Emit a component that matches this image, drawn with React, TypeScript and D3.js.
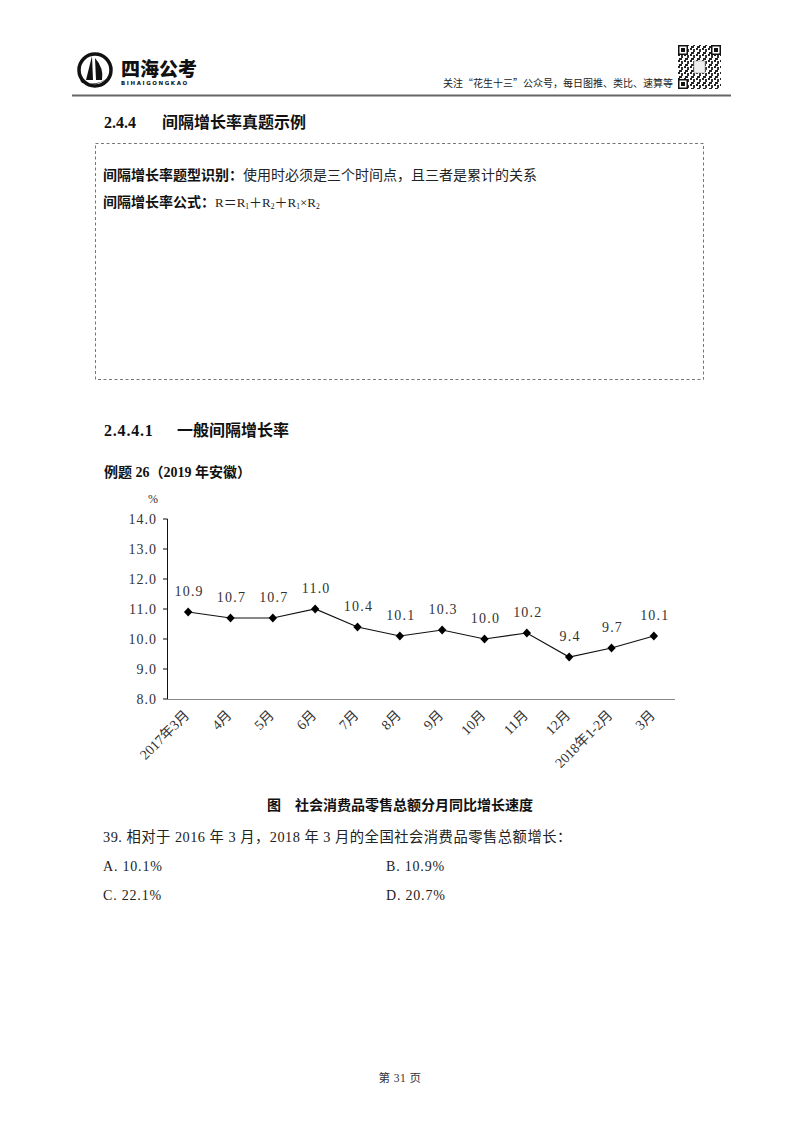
import React from 'react';
import * as d3 from 'd3';

const categories = ['2017年3月', '4月', '5月', '6月', '7月', '8月', '9月', '10月', '11月', '12月', '2018年1-2月', '3月'];
const values = [10.9, 10.7, 10.7, 11.0, 10.4, 10.1, 10.3, 10.0, 10.2, 9.4, 9.7, 10.1];
const yTicks = [8, 9, 10, 11, 12, 13, 14];
const optionLabels = ['A', 'B', 'C', 'D'];
const optionValues = ['10.1%', '10.9%', '22.1%', '20.7%'];

const SERIF = '"Liberation Serif", "DejaVu Serif", "Noto Sans CJK SC", serif';
const CJK = '"Noto Sans CJK SC", sans-serif';
const MIX = '"Liberation Serif", "Noto Sans CJK SC", serif';

export default function App() {
  const x = d3.scalePoint<string>().domain(categories).range([167, 675]).padding(0.5);
  const y = d3.scaleLinear().domain([8, 14]).range([699, 519]);
  const line = d3
    .line<number>()
    .x((_, i) => x(categories[i]) as number)
    .y((d) => y(d));
  const fmt = d3.format('.1f');
  const diamond = 'M0,-4.6L4.2,0L0,4.6L-4.2,0Z';

  return (
    <svg
      width={800}
      height={1132}
      viewBox="0 0 800 1132"
      style={{ position: 'absolute', left: 0, top: 0, background: '#fff' }}
    >
      <defs>
        <pattern id="qr" width="6" height="6" patternUnits="userSpaceOnUse">
          <rect x="0" y="0" width="2" height="2" fill="#222" />
          <rect x="3" y="1" width="2" height="3" fill="#333" />
          <rect x="1" y="4" width="3" height="2" fill="#222" />
        </pattern>
      </defs>
      <rect x={0} y={0} width={800} height={1132} fill="#fff" />

      {/* Header logo */}
      <g>
        <circle cx={95} cy={70} r={16} fill="none" stroke="#111" strokeWidth={3.5} />
        <path d="M92,56 L93,80 L86,80 Z" fill="#111" />
        <path d="M95,58 Q104,68 102,80 L96,80 Z" fill="#111" />
        <path d="M80,80 Q95,90 110,76 Q100,86 82,83 Z" fill="#111" />
        <text x={121} y={76} fontFamily={CJK} fontWeight={900} fontSize={19} fill="#111">
          四海公考
        </text>
        <text x={121} y={85} fontFamily={'"DejaVu Sans", sans-serif'} fontWeight={700} fontSize={5.5} letterSpacing={1.6} fill="#111">
          BIHAIGONGKAO
        </text>
      </g>
      <text x={673} y={87} textAnchor="end" fontFamily={CJK} fontSize={10} fill="#222">
        关注“花生十三”公众号，每日图推、类比、速算等
      </text>
      <g>
        <rect x={678} y={45} width={43} height={44} fill="url(#qr)" />
        {[
          [678, 45],
          [711, 45],
          [678, 79],
        ].map(([qx, qy], i) => (
          <g key={i}>
            <rect x={qx} y={qy} width={10} height={10} fill="#111" />
            <rect x={qx + 1.5} y={qy + 1.5} width={7} height={7} fill="#fff" />
            <rect x={qx + 3} y={qy + 3} width={4} height={4} fill="#111" />
          </g>
        ))}
        <rect x={694} y={61} width={11} height={12} fill="#eee" stroke="#999" strokeWidth={0.6} />
      </g>
      <line x1={72} x2={731} y1={95.5} y2={95.5} stroke="#666" strokeWidth={2} />

      {/* Section heading */}
      <text x={104} y={128} fontFamily={SERIF} fontWeight={700} fontSize={16} fill="#111">
        2.4.4
      </text>
      <text x={162} y={128} fontFamily={CJK} fontWeight={700} fontSize={16} fill="#111">
        间隔增长率真题示例
      </text>

      {/* Dashed box */}
      <rect x={95.5} y={143.5} width={608} height={236} fill="none" stroke="#777" strokeWidth={1} strokeDasharray="3,2.5" />
      <text x={103} y={180} fontSize={14} fill="#111">
        <tspan fontFamily={CJK} fontWeight={700}>间隔增长率题型识别：</tspan>
        <tspan fontFamily={CJK} fontWeight={400} fill="#222">使用时必须是三个时间点，且三者是累计的关系</tspan>
      </text>
      <text x={103} y={207} fontSize={14} fill="#111">
        <tspan fontFamily={CJK} fontWeight={700}>间隔增长率公式：</tspan>
        <tspan fontFamily={SERIF} fontSize={13} fill="#222">R＝R</tspan>
        <tspan fontFamily={SERIF} fontSize={7.5} dy={2}>1</tspan>
        <tspan fontFamily={SERIF} fontSize={13} dy={-2} fill="#222">＋R</tspan>
        <tspan fontFamily={SERIF} fontSize={7.5} dy={2}>2</tspan>
        <tspan fontFamily={SERIF} fontSize={13} dy={-2} fill="#222">＋R</tspan>
        <tspan fontFamily={SERIF} fontSize={7.5} dy={2}>1</tspan>
        <tspan fontFamily={SERIF} fontSize={13} dy={-2} fill="#222">×R</tspan>
        <tspan fontFamily={SERIF} fontSize={7.5} dy={2}>2</tspan>
      </text>

      {/* Sub heading */}
      <text x={104} y={436} fontFamily={SERIF} fontWeight={700} fontSize={16} letterSpacing={0.8} fill="#111">
        2.4.4.1
      </text>
      <text x={177} y={436} fontFamily={CJK} fontWeight={700} fontSize={16} fill="#111">
        一般间隔增长率
      </text>
      <text x={104} y={477} fontFamily={MIX} fontWeight={700} fontSize={14} fill="#111">
        例题 26（2019 年安徽）
      </text>

      {/* Chart */}
      <g>
        <text x={153} y={503} textAnchor="middle" fontFamily={SERIF} fontSize={12} fill="#333">
          %
        </text>
        <line x1={167.5} x2={167.5} y1={y(14)} y2={y(8)} stroke="#111" strokeWidth={1} />
        {yTicks.map((t) => (
          <g key={t}>
            <line x1={163} x2={167.5} y1={y(t)} y2={y(t)} stroke="#111" strokeWidth={1} />
            <text
              x={157}
              y={y(t)}
              dy="0.35em"
              textAnchor="end"
              fontFamily={SERIF}
              fontSize={14}
              letterSpacing={1}
              fill="#333"
            >
              {fmt(t)}
            </text>
          </g>
        ))}
        <line x1={167} x2={675} y1={y(8) + 0.5} y2={y(8) + 0.5} stroke="#888" strokeWidth={1} />
        {categories.map((c) => (
          <text
            key={c}
            transform={`translate(${(x(c) as number) + 2},716) rotate(-45)`}
            textAnchor="end"
            fontFamily={MIX}
            fontSize={14}
            fill="#333"
          >
            {c}
          </text>
        ))}
        <path d={line(values) || ''} fill="none" stroke="#111" strokeWidth={1.2} />
        {values.map((v, i) => (
          <g key={i}>
            <path d={diamond} transform={`translate(${x(categories[i])},${y(v)})`} fill="#000" />
            <text
              x={(x(categories[i]) as number) + 1}
              y={y(v) - 16}
              textAnchor="middle"
              fontFamily={SERIF}
              fontSize={14}
              letterSpacing={1.2}
              fill="#333"
            >
              {fmt(v)}
            </text>
          </g>
        ))}
      </g>

      {/* Caption */}
      <text x={400} y={810} textAnchor="middle" fontFamily={CJK} fontWeight={700} fontSize={14} fill="#111">
        图　社会消费品零售总额分月同比增长速度
      </text>

      {/* Question */}
      <text x={103} y={842} fontFamily={MIX} fontSize={14.3} letterSpacing={0.5} fill="#222">
        39. 相对于 2016 年 3 月，2018 年 3 月的全国社会消费品零售总额增长：
      </text>
      {optionLabels.map((k, i) => (
        <text
          key={k}
          x={i % 2 === 0 ? 103 : 386}
          y={i < 2 ? 871 : 900}
          fontFamily={SERIF}
          fontSize={14}
          letterSpacing={0.8}
          fill="#222"
        >
          {`${k}. ${optionValues[i]}`}
        </text>
      ))}

      {/* Footer */}
      <text x={400} y={1082} textAnchor="middle" fontFamily={MIX} fontSize={11.5} letterSpacing={0.5} fill="#333">
        第 31 页
      </text>
    </svg>
  );
}
